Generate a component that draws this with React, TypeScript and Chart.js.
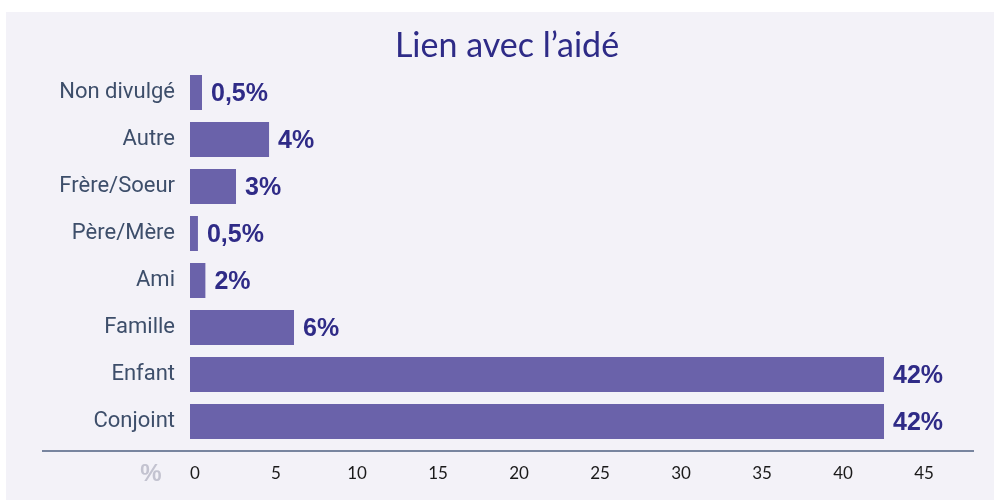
import React, { useEffect, useRef } from "react";
import { Chart, registerables } from "chart.js";

Chart.register(...registerables);

const categories = ["Non divulgé", "Autre", "Frère/Soeur", "Père/Mère", "Ami", "Famille", "Enfant", "Conjoint"];
const barValues = [0.74, 4.88, 2.84, 0.49, 0.95, 6.42, 42.84, 42.84];
const valueLabels = ["0,5%", "4%", "3%", "0,5%", "2%", "6%", "42%", "42%"];
const title = "Lien avec l\u2019aidé";
const axisUnit = "%";

const W = 994;
const H = 500;

export default function App() {
  const ref = useRef<HTMLCanvasElement | null>(null);

  useEffect(() => {
    const canvas = ref.current;
    if (!canvas) return;

    const decor = {
      id: "decor",
      beforeDraw(chart: any) {
        const ctx = chart.ctx;
        ctx.save();
        ctx.fillStyle = "#ffffff";
        ctx.fillRect(0, 0, W, H);
        ctx.fillStyle = "#f3f2f8";
        ctx.fillRect(6, 12, W - 6, H - 12);
        ctx.restore();
      },
      afterDraw(chart: any) {
        const ctx = chart.ctx;
        ctx.save();
        ctx.fillStyle = "#2e2b87";
        ctx.font = "400 34px Lato";
        ctx.textAlign = "center";
        ctx.textBaseline = "middle";
        ctx.fillText(title, 507, 46);
        ctx.strokeStyle = "#4f6182";
        ctx.lineWidth = 1.5;
        ctx.beginPath();
        ctx.moveTo(42, 451);
        ctx.lineTo(974, 451);
        ctx.stroke();
        ctx.fillStyle = "#c3c3d0";
        ctx.font = "700 24px 'Liberation Sans'";
        ctx.textAlign = "center";
        ctx.fillText(axisUnit, 151, 474);
        ctx.restore();
      },
      afterDatasetsDraw(chart: any) {
        const ctx = chart.ctx;
        const meta = chart.getDatasetMeta(0);
        ctx.save();
        ctx.fillStyle = "#2f2b87";
        ctx.font = "700 25px 'Liberation Sans'";
        ctx.textAlign = "left";
        ctx.textBaseline = "middle";
        meta.data.forEach((bar: any, i: number) => {
          ctx.fillText(valueLabels[i], bar.x + 9, bar.y + 2);
        });
        ctx.restore();
      },
    };

    const chart = new Chart(canvas, {
      type: "bar",
      data: {
        labels: categories,
        datasets: [
          {
            data: barValues,
            backgroundColor: "#6a62aa",
            borderWidth: 0,
            barPercentage: 0.745,
            categoryPercentage: 1,
          },
        ],
      },
      options: {
        indexAxis: "y",
        animation: false,
        responsive: false,
        maintainAspectRatio: false,
        layout: { padding: { left: 0, right: W - 919, top: 69, bottom: 0 } },
        plugins: {
          legend: { display: false },
          tooltip: { enabled: false },
        },
        scales: {
          x: {
            min: 0,
            max: 45,
            grid: { display: false, drawTicks: false },
            border: { display: false },
            afterFit(scale: any) {
              scale.height = H - 445;
            },
            ticks: {
              stepSize: 5,
              padding: 18,
              labelOffset: 5,
              color: "#1a1a1a",
              font: { family: "Lato", size: 17 },
            },
          },
          y: {
            grid: { display: false, drawTicks: false },
            border: { display: false },
            afterFit(scale: any) {
              scale.width = 190;
            },
            ticks: {
              padding: 15,
              color: "#3d4e6a",
              font: { family: "Roboto", size: 22 },
            },
          },
        },
      },
      plugins: [decor],
    });

    return () => chart.destroy();
  }, []);

  return (
    <div style={{ position: "fixed", left: 0, top: 0, width: W, height: H, background: "#ffffff" }}>
      <canvas ref={ref} width={W} height={H} style={{ display: "block", width: W, height: H }} />
    </div>
  );
}
